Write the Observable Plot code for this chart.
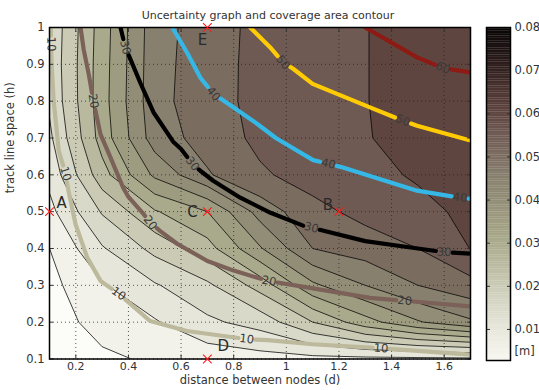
<!DOCTYPE html>
<html><head><meta charset="utf-8">
<script src="https://cdn.jsdelivr.net/npm/d3@7"></script>
<script src="https://cdn.jsdelivr.net/npm/@observablehq/plot@0.6"></script>
<style>
body{margin:0;background:#fff;}
#wrap{position:relative;width:539px;height:390px;}
#wrap svg{position:absolute;top:0;}
</style></head><body><div id="wrap"></div>
<script>
// ---------- data ----------
const dValues = [0.1, 0.3, 0.5, 0.7, 0.9, 1.1, 1.3, 1.5, 1.7];
const hValues = [1.0, 0.9, 0.8, 0.7, 0.6, 0.5, 0.4, 0.3, 0.2, 0.1];
// uncertainty [m], rows h = 1.0 ... 0.1, columns d = 0.1 ... 1.7
const uncertainty = [
  [0.0160, 0.0325, 0.0480, 0.0525, 0.0565, 0.0585, 0.0599, 0.0613, 0.0625],
  [0.0163, 0.0328, 0.0482, 0.0527, 0.0566, 0.0586, 0.0599, 0.0613, 0.0625],
  [0.0158, 0.0330, 0.0484, 0.0528, 0.0566, 0.0586, 0.0599, 0.0613, 0.0625],
  [0.0140, 0.0322, 0.0475, 0.0520, 0.0562, 0.0583, 0.0598, 0.0612, 0.0624],
  [0.0115, 0.0280, 0.0410, 0.0495, 0.0543, 0.0570, 0.0585, 0.0606, 0.0620],
  [0.0085, 0.0205, 0.0295, 0.0350, 0.0470, 0.0535, 0.0565, 0.0585, 0.0612],
  [0.0050, 0.0145, 0.0215, 0.0280, 0.0395, 0.0500, 0.0525, 0.0550, 0.0601],
  [0.0035, 0.0095, 0.0145, 0.0190, 0.0270, 0.0390, 0.0450, 0.0500, 0.0533],
  [0.0025, 0.0070, 0.0095, 0.0140, 0.0170, 0.0250, 0.0330, 0.0395, 0.0442],
  [0.0020, 0.0040, 0.0058, 0.0070, 0.0080, 0.0085, 0.0087, 0.0088, 0.0090]
];
const levels = [0.005, 0.01, 0.015, 0.02, 0.025, 0.03, 0.035, 0.04, 0.045, 0.05, 0.055, 0.06, 0.065];
const colorStops = [0, 0.005, 0.01, 0.015, 0.02, 0.025, 0.03, 0.035, 0.04, 0.045, 0.05, 0.055, 0.06, 0.065, 0.07, 0.075, 0.08];
const colorbarMin = 0.0028, colorbarMax = 0.08;
const colorbarTicks = [0.01, 0.02, 0.03, 0.04, 0.05, 0.06, 0.07, 0.08];
const xTicks = [0.2, 0.4, 0.6, 0.8, 1.0, 1.2, 1.4, 1.6];
const yTicks = [0.1, 0.2, 0.3, 0.4, 0.5, 0.6, 0.7, 0.8, 0.9, 1.0];

// coverage area contours [d, h] and label anchor points
const coverageLevels = [10, 20, 30, 40, 50, 60];
const cov10 = [[0.105,1.0],[0.108,0.9],[0.116,0.8],[0.135,0.666],[0.161,0.603],[0.172,0.557],[0.199,0.466],[0.243,0.376],[0.294,0.312],[0.363,0.277],[0.483,0.203],[0.622,0.176],[0.85,0.154],[0.93,0.151],[1.1,0.14],[1.318,0.131],[1.5,0.122],[1.7,0.112]];
const cov20 = [[0.218,1.0],[0.23,0.94],[0.25,0.87],[0.267,0.8],[0.294,0.71],[0.33,0.65],[0.38,0.565],[0.4,0.54],[0.457,0.494],[0.483,0.47],[0.52,0.448],[0.585,0.413],[0.7,0.366],[0.8,0.34],[0.93,0.312],[1.09,0.293],[1.318,0.266],[1.45,0.258],[1.7,0.243]];
const cov30 = [[0.37,1.0],[0.388,0.946],[0.407,0.915],[0.445,0.85],[0.495,0.77],[0.57,0.69],[0.6,0.67],[0.643,0.63],[0.673,0.611],[0.722,0.584],[0.825,0.538],[0.94,0.497],[1.064,0.462],[1.3,0.42],[1.5,0.4],[1.6,0.39],[1.7,0.386]];
const cov40 = [[0.567,1.0],[0.624,0.93],[0.673,0.864],[0.723,0.82],[0.8,0.783],[0.89,0.738],[0.96,0.7],[1.102,0.64],[1.16,0.63],[1.215,0.62],[1.497,0.557],[1.66,0.538],[1.7,0.535]];
const cov50 = [[0.863,1.0],[0.939,0.946],[0.988,0.905],[1.026,0.888],[1.1,0.847],[1.318,0.783],[1.443,0.747],[1.497,0.733],[1.7,0.693]];
const cov60 = [[1.3,1.0],[1.497,0.919],[1.595,0.89],[1.7,0.878]];
const lab10 = [[0.108,0.955],[0.161,0.603],[0.363,0.277],[0.85,0.154],[1.36,0.129]];
const lab20 = [[0.267,0.8],[0.483,0.47],[0.935,0.312],[1.45,0.258]];
const lab30 = [[0.388,0.946],[0.643,0.63],[1.095,0.455],[1.6,0.388]];
const lab40 = [[0.723,0.82],[1.16,0.63],[1.66,0.537]];
const lab50 = [[0.988,0.905],[1.443,0.747]];
const lab60 = [[1.595,0.89]];

// test points
const pointNames = ["A", "B", "C", "D", "E"];
const pointD = [0.1, 1.2, 0.7, 0.7, 0.7];
const pointH = [0.5, 0.5, 0.5, 0.1, 1.0];

// ---------- styles / layout ----------
const colorRange = ["#fcfcf9","#f2f2ea","#e6e6da","#d9d9c9","#cacab5","#b9b99f","#a9aa8c","#9e9c80","#928d76","#88806e","#7b6c60","#6e5a53","#5e4540","#4c3431","#32211f","#1c1212","#080505"];
const coverageColors = ["#bdb99c", "#7b6158", "#000000", "#35b8e6", "#ffcb05", "#8e1a14"];
const W = 539, H = 390, mL = 49, mR = 69, mT = 27, mB = 31.5;
const font = "DejaVu Sans";
const KX = (W - mL - mR) / (1.7 - 0.1);
const KY = (H - mT - mB) / (1.0 - 0.1);
const colorScale = {type: "linear", domain: colorStops, range: colorRange, interpolate: "rgb"};

// split a polyline at label anchors (gap in px), return line points and label placements
function splitLine(pts, labs, gap) {
  const P = pts.map(([d, h]) => [d * KX, -h * KY]);
  const cum = [0];
  for (let i = 1; i < P.length; i++) cum.push(cum[i - 1] + Math.hypot(P[i][0] - P[i - 1][0], P[i][1] - P[i - 1][1]));
  const at = s => {
    let i = 1;
    while (i < P.length - 1 && cum[i] < s) i++;
    const t = Math.max(0, Math.min(1, (s - cum[i - 1]) / ((cum[i] - cum[i - 1]) || 1)));
    return [P[i - 1][0] + t * (P[i][0] - P[i - 1][0]), P[i - 1][1] + t * (P[i][1] - P[i - 1][1])];
  };
  const info = labs.map(([d, h]) => {
    const q = [d * KX, -h * KY];
    let best = {dist: Infinity};
    for (let i = 1; i < P.length; i++) {
      const a = P[i - 1], b = P[i];
      const vx = b[0] - a[0], vy = b[1] - a[1];
      const L2 = vx * vx + vy * vy || 1;
      const t = Math.max(0, Math.min(1, ((q[0] - a[0]) * vx + (q[1] - a[1]) * vy) / L2));
      const px = a[0] + t * vx, py = a[1] + t * vy;
      const dist = Math.hypot(q[0] - px, q[1] - py);
      if (dist < best.dist) {
        let ang = Math.atan2(vy, vx) * 180 / Math.PI;
        if (ang > 90) ang -= 180;
        if (ang < -90) ang += 180;
        best = {dist, s: cum[i - 1] + t * Math.sqrt(L2), x: px / KX, y: -py / KY, angle: ang};
      }
    }
    return best;
  });
  const cuts = info.map(l => [l.s - gap, l.s + gap]).sort((a, b) => a[0] - b[0]);
  const intervals = [];
  let cur = 0;
  for (const [a, b] of cuts) { intervals.push([cur, a]); cur = b; }
  intervals.push([cur, cum[cum.length - 1]]);
  const out = [];
  for (const [a, b] of intervals) {
    if (b <= a) continue;
    out.push(at(a));
    for (let i = 0; i < P.length; i++) if (cum[i] > a && cum[i] < b) out.push(P[i]);
    out.push(at(b));
    out.push([NaN, NaN]);
  }
  return {line: out.map(([x, y]) => ({d: x / KX, h: -y / KY})), labels: info};
}

const coverageLines = [cov10, cov20, cov30, cov40, cov50, cov60];
const coverageLabelAnchors = [lab10, lab20, lab30, lab40, lab50, lab60];
const coverageMarks = [];
coverageLines.forEach((pts, k) => {
  const {line, labels} = splitLine(pts, coverageLabelAnchors[k], 8.5);
  coverageMarks.push(Plot.line(line, {x: "d", y: "h", stroke: coverageColors[k], strokeWidth: 4.2, clip: true, strokeLinejoin: "round"}));
  coverageMarks.push(Plot.text(labels, {x: "x", y: "y", rotate: "angle", text: () => String(coverageLevels[k]), fill: "#3a3a3a", fontSize: 11.5, fontFamily: font}));
});

const flat = uncertainty.slice().reverse().flat();
const dStep = dValues[1] - dValues[0];
const hStep = hValues[0] - hValues[1];
const contourOpts = {
  width: dValues.length, height: hValues.length,
  x1: dValues[0] - dStep / 2, x2: dValues[dValues.length - 1] + dStep / 2,
  y1: hValues[hValues.length - 1] - hStep / 2, y2: hValues[0] + hStep / 2,
  clip: true
};
const fmt = v => String(+v.toFixed(2));
const letterOffsets = {A: [12, -8], B: [-11, -6], C: [-15, 1], D: [16, -13], E: [-5, 13]};
const points = pointNames.map((n, i) => ({name: n, d: pointD[i], h: pointH[i]}));

const main = Plot.plot({
  width: W, height: H,
  marginLeft: mL, marginRight: mR, marginTop: mT, marginBottom: mB,
  style: {fontFamily: font, fontSize: "11px", color: "#333", background: "transparent"},
  x: {domain: [0.1, 1.7]},
  y: {domain: [0.1, 1.0]},
  color: colorScale,
  marks: [
    Plot.contour(flat, {...contourOpts, fill: Plot.identity, thresholds: [0, ...levels], stroke: "none"}),
    Plot.contour(flat, {...contourOpts, value: Plot.identity, thresholds: levels, fill: "none", stroke: "black", strokeWidth: 0.75}),
    Plot.gridX(xTicks, {stroke: "#222", strokeOpacity: 0.75, strokeDasharray: "1,3"}),
    Plot.gridY(yTicks, {stroke: "#222", strokeOpacity: 0.75, strokeDasharray: "1,3"}),
    ...coverageMarks,
    Plot.axisX(xTicks, {anchor: "bottom", tickSize: 4, dy: -4, tickFormat: () => ""}),
    Plot.axisX(xTicks, {anchor: "top", tickSize: 4, dy: 4, tickFormat: () => ""}),
    Plot.axisY(yTicks, {anchor: "left", tickSize: 4, dx: 4, tickFormat: () => ""}),
    Plot.axisY(yTicks, {anchor: "right", tickSize: 4, dx: -4, tickFormat: () => ""}),
    Plot.axisX(xTicks, {anchor: "bottom", tickSize: 0, tickPadding: 3, tickFormat: fmt, label: null, fontSize: 11, fill: "#333"}),
    Plot.axisY(yTicks, {anchor: "left", tickSize: 0, tickPadding: 5, tickFormat: fmt, label: null, fontSize: 11.5, fill: "#333"}),
    Plot.frame({stroke: "black", strokeWidth: 1.5}),
    Plot.dot(points, {x: "d", y: "h", symbol: "times", r: 4, stroke: "#ff1a1a", strokeWidth: 1.1}),
    ...pointNames.map(n => Plot.text(points.filter(p => p.name === n), {x: "d", y: "h", text: "name", dx: letterOffsets[n][0], dy: letterOffsets[n][1], fontSize: 15, fill: "#2a2a2a", fontFamily: font})),
    Plot.text(["Uncertainty graph and coverage area contour"], {frameAnchor: "top", dy: -16, dx: 8, fontSize: 11, fill: "#333"}),
    Plot.text(["distance between nodes (d)"], {frameAnchor: "bottom", dy: 25, fontSize: 11.5, fill: "#333", letterSpacing: "0.7px"}),
    Plot.text(["track line space (h)"], {frameAnchor: "left", dx: -39, rotate: -90, fontSize: 11.5, fill: "#333", letterSpacing: "0.7px"})
  ]
});

const cbSteps = d3.range(colorbarMin, colorbarMax, 0.0004);
const cbar = Plot.plot({
  width: 69, height: H,
  marginLeft: 16, marginRight: 29, marginTop: mT, marginBottom: 30,
  style: {fontFamily: font, fontSize: "11.5px", color: "#333", background: "transparent"},
  x: {domain: [0, 1], axis: null},
  y: {domain: [colorbarMin, colorbarMax]},
  color: colorScale,
  marks: [
    Plot.rect(cbSteps, {x1: 0, x2: 1, y1: d => d, y2: d => Math.min(colorbarMax, d + 0.00045), fill: d => d}),
    Plot.axisY(colorbarTicks, {anchor: "left", tickSize: 4, dx: 4, tickFormat: () => ""}),
    Plot.axisY(colorbarTicks, {anchor: "right", tickSize: 4, dx: -4, tickFormat: () => ""}),
    Plot.axisY(colorbarTicks, {anchor: "right", tickSize: 0, tickPadding: 4, tickFormat: d => d.toFixed(2), label: null, fill: "#333", fontSize: 11.5}),
    Plot.frame({stroke: "black", strokeWidth: 1.5}),
    Plot.text(["[m]"], {frameAnchor: "bottom-right", textAnchor: "start", dx: 4, dy: -6, fill: "#333", fontSize: 11.5})
  ]
});
cbar.style.left = "470px";
main.style.left = "0px";
document.getElementById("wrap").append(main, cbar);
</script>
</body></html>
